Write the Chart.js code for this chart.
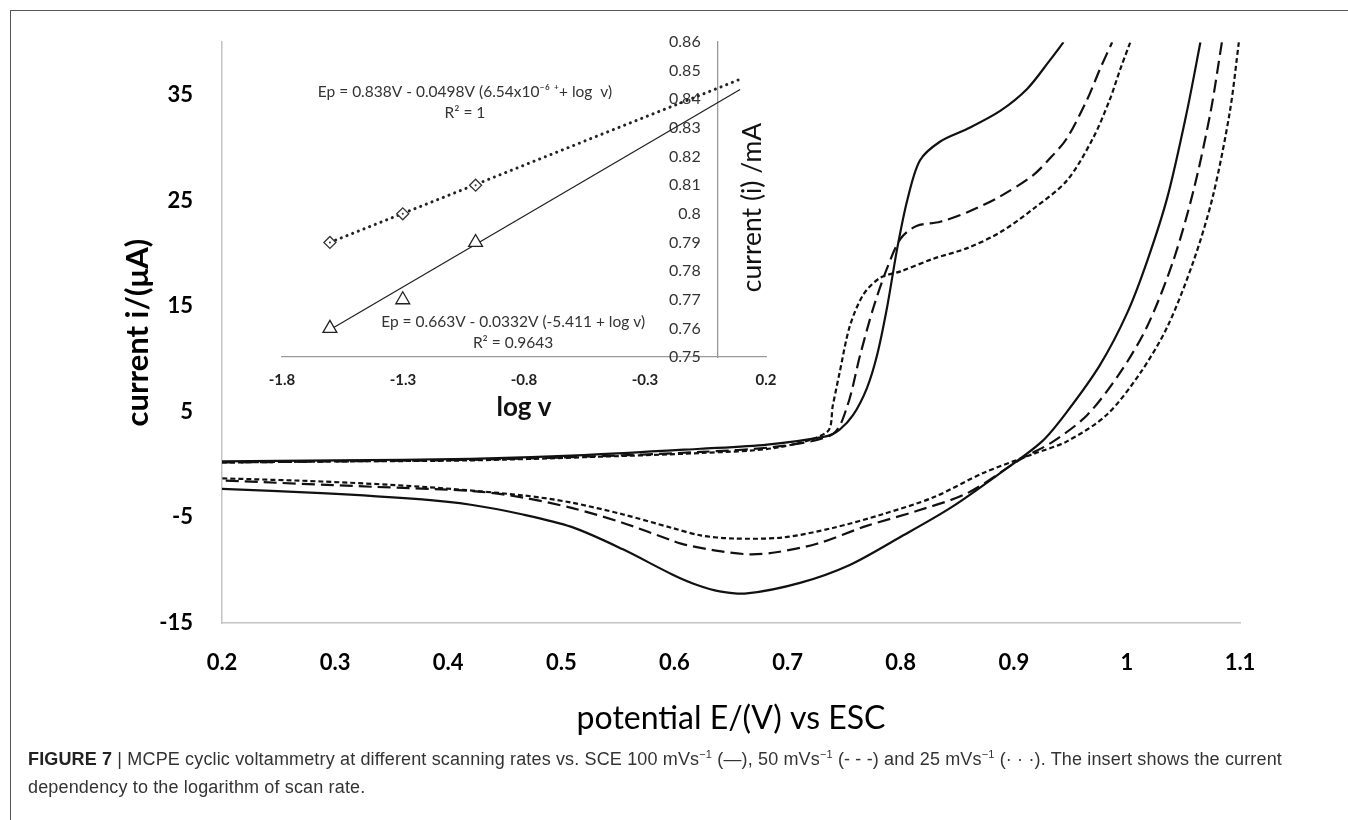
<!DOCTYPE html>
<html>
<head>
<meta charset="utf-8">
<script src="https://cdn.jsdelivr.net/npm/chart.js@4.4.1/dist/chart.umd.min.js"></script>
<style>
  html, body { margin:0; padding:0; background:#fff; }
  body { width:1348px; height:820px; position:relative; overflow:hidden; }
  #frame { position:absolute; left:10px; top:10px; width:1345px; height:820px;
           border-top:1.5px solid #555; border-left:1.5px solid #555; }
  #mainWrap { position:absolute; left:0; top:0; width:1348px; height:760px; }
  #insetWrap { position:absolute; left:232px; top:0; width:560px; height:430px; }
  #caption { position:absolute; left:28px; top:745px; width:1310px;
             font-family:"Liberation Sans", Arial, sans-serif; font-size:18px; letter-spacing:0.15px;
             line-height:28px; color:#333; white-space:nowrap; }
  #caption b { color:#222; }
  #caption sup { font-size:11px; line-height:0; }
</style>
</head>
<body>
<div id="frame"></div>
<div id="mainWrap"><canvas id="main" width="1348" height="760"></canvas></div>
<div id="insetWrap"><canvas id="inset" width="560" height="430"></canvas></div>
<div id="caption"><b>FIGURE 7</b> | MCPE cyclic voltammetry at different scanning rates vs. SCE 100 mVs<sup>−1</sup> (—), 50 mVs<sup>−1</sup> (- - -) and 25 mVs<sup>−1</sup> (· · ·). The insert shows the current<br>dependency to the logarithm of scan rate.</div>
<script>
// ---------- main voltammograms: [potential E (V), current i (µA)] ----------
const anodic100 = [[0.2,0.3],[0.3,0.4],[0.42,0.55],[0.52,0.9],[0.623,1.5],[0.682,1.9],[0.735,2.7],[0.746,3.3],[0.758,4.7],[0.77,7.2],[0.779,10.3],[0.788,14.9],[0.797,20.5],[0.806,25.1],[0.817,28.8],[0.835,30.6],[0.859,31.8],[0.888,33.5],[0.912,35.6],[0.932,38.3],[0.944,40]];
const cathodic100 = [[1.065,40],[1.053,33.4],[1.036,25.4],[1.018,19.3],[1.0,14.3],[0.976,9.4],[0.947,5.0],[0.925,2.2],[0.888,-0.8],[0.844,-4.1],[0.799,-6.9],[0.755,-9.5],[0.711,-11.2],[0.664,-12.2],[0.64,-12.0],[0.62,-11.4],[0.598,-10.4],[0.554,-8.0],[0.509,-5.9],[0.465,-4.7],[0.42,-3.8],[0.377,-3.3],[0.288,-2.7],[0.2,-2.3]];
const anodic50 = [[0.2,0.2],[0.3,0.3],[0.42,0.45],[0.52,0.75],[0.623,1.2],[0.69,1.7],[0.74,2.9],[0.753,5.6],[0.764,10.3],[0.776,14.9],[0.788,18.6],[0.8,21.4],[0.814,22.6],[0.835,23.0],[0.859,23.9],[0.888,25.4],[0.917,27.4],[0.932,29.0],[0.947,30.9],[0.965,34.6],[0.976,37.4],[0.987,40]];
const cathodic50 = [[1.084,40],[1.074,33.4],[1.059,26.0],[1.041,19.3],[1.018,13.1],[0.994,8.7],[0.965,4.7],[0.935,2.2],[0.906,0.5],[0.859,-2.7],[0.814,-4.4],[0.77,-5.8],[0.726,-7.5],[0.69,-8.3],[0.667,-8.5],[0.64,-8.2],[0.61,-7.6],[0.598,-7.2],[0.554,-5.5],[0.509,-4.1],[0.465,-3.1],[0.421,-2.5],[0.333,-2.1],[0.2,-1.5]];
const anodic25 = [[0.2,0.2],[0.3,0.3],[0.42,0.4],[0.52,0.7],[0.623,1.1],[0.69,1.6],[0.735,3.1],[0.74,5.6],[0.746,8.7],[0.755,13.1],[0.767,16.1],[0.782,17.7],[0.8,18.3],[0.829,19.5],[0.859,20.5],[0.888,22.0],[0.917,24.2],[0.947,26.9],[0.97,30.9],[0.985,34.6],[0.994,37.4],[1.003,40]];
const cathodic25 = [[1.099,40],[1.091,33.4],[1.076,25.4],[1.059,19.3],[1.036,13.1],[1.012,8.7],[0.982,4.7],[0.947,2.2],[0.917,1.0],[0.873,-0.8],[0.829,-3.1],[0.784,-4.7],[0.74,-6.0],[0.696,-6.9],[0.652,-7.0],[0.623,-6.7],[0.598,-6.0],[0.554,-4.7],[0.509,-3.6],[0.465,-2.9],[0.377,-2.1],[0.288,-1.6],[0.2,-1.3]];
const mainXTicks = [0.2,0.3,0.4,0.5,0.6,0.7,0.8,0.9,1.0,1.1];
const mainYTicks = [-15,-5,5,15,25,35];

// ---------- insert: peak potential vs log of scan rate ----------
const logScanRate = [-1.602,-1.301,-1.0];
const epDiamond = [0.79,0.80,0.81];
const epTriangle = [0.76,0.77,0.79];
const trendDiamond = [[-1.602,0.79],[0.093,0.847]];
const trendTriangle = [[-1.602,0.7595],[0.093,0.8434]];
const insetXTicks = [-1.8,-1.3,-0.8,-0.3,0.2];
const insetYTicks = [0.75,0.76,0.77,0.78,0.79,0.80,0.81,0.82,0.83,0.84,0.85,0.86];
const eqDiamond = ['Ep = 0.838V - 0.0498V (6.54x10⁻⁶ ⁺+ log  v)', 'R² = 1'];
const eqTriangle = ['Ep = 0.663V - 0.0332V (-5.411 + log v)', 'R² = 0.9643'];

const FONT = 'Lato, "Open Sans", "Liberation Sans", sans-serif';
const pts = a => a.map(p => ({x:p[0], y:p[1]}));
const fmt = v => String(+(+v).toFixed(2));

function cv(data, dash) {
  return { data: pts(data), showLine:true, pointRadius:0, borderColor:'#111', borderWidth:2.2,
           borderDash:dash, tension:0.3, fill:false };
}

new Chart(document.getElementById('main'), {
  type:'scatter',
  data:{ datasets:[
    cv(anodic100, []), cv(cathodic100, []),
    cv(anodic50, [13,6]), cv(cathodic50, [13,6]),
    cv(anodic25, [5,3]), cv(cathodic25, [5,3])
  ]},
  options:{
    responsive:false, animation:false, devicePixelRatio:1,
    layout:{ padding:{ left:100, right:108, top:29, bottom:0 } },
    plugins:{ legend:{display:false}, tooltip:{enabled:false} },
    scales:{
      x:{ type:'linear', min:0.2, max:1.1,
          afterBuildTicks: s => { s.ticks = mainXTicks.map(v => ({value:v})); },
          afterFit: s => { s.height = 137; },
          grid:{ display:false, drawTicks:false },
          border:{ display:true, color:'#c4c4c4', width:1.5 },
          ticks:{ callback: fmt, color:'#000', padding:27, maxRotation:0, autoSkip:false,
                  font:{ family:FONT, size:22, weight:'bold' } },
          title:{ display:true, text:'potential E/(V) vs ESC', color:'#000',
                  font:{ family:FONT, size:32 }, padding:{ top:0, bottom:22 } } },
      y:{ type:'linear', min:-15, max:40,
          afterBuildTicks: s => { s.ticks = mainYTicks.map(v => ({value:v})); },
          afterFit: s => { s.width = 122; },
          grid:{ display:false, drawTicks:false },
          border:{ display:true, color:'#c4c4c4', width:1.5 },
          ticks:{ color:'#000', padding:29, font:{ family:FONT, size:22, weight:'bold' } },
          title:{ display:true, text:'current i/(μA)', color:'#000',
                  font:{ family:FONT, size:31, weight:'bold' }, padding:{ top:19, bottom:0 } } }
    }
  }
});

const insetText = {
  id:'insetText',
  afterDraw(chart) {
    const {ctx, scales:{x, y}} = chart;
    ctx.save();
    ctx.fillStyle = '#333';
    ctx.textAlign = 'center';
    ctx.textBaseline = 'middle';
    ctx.font = '15.5px ' + FONT;
    ctx.fillText(eqDiamond[0], x.getPixelForValue(-1.044), y.getPixelForValue(0.8426));
    ctx.fillText(eqDiamond[1], x.getPixelForValue(-1.044), y.getPixelForValue(0.8352));
    ctx.fillText(eqTriangle[0], x.getPixelForValue(-0.845), y.getPixelForValue(0.7622));
    ctx.fillText(eqTriangle[1], x.getPixelForValue(-0.845), y.getPixelForValue(0.7549));
    // y-axis title of the insert (right of the axis line, reading upward)
    ctx.translate(x.getPixelForValue(0) + 35, (y.top + y.bottom) / 2 + 8);
    ctx.rotate(-Math.PI / 2);
    ctx.fillStyle = '#111';
    ctx.font = '26.5px ' + FONT;
    ctx.fillText('current (i) /mA', 0, 0);
    ctx.restore();
  }
};

new Chart(document.getElementById('inset'), {
  type:'scatter',
  data:{ datasets:[
    { data: logScanRate.map((v,i) => ({x:v, y:epDiamond[i]})), pointStyle:'rectRot', pointRadius:6,
      pointBackgroundColor:'#fff', pointBorderColor:'#333', pointBorderWidth:1.3, showLine:false, order:1 },
    { data: logScanRate.map((v,i) => ({x:v, y:epDiamond[i]})), pointStyle:'circle', pointRadius:1,
      pointBackgroundColor:'#333', pointBorderWidth:0, showLine:false, order:0 },
    { data: logScanRate.map((v,i) => ({x:v, y:epTriangle[i]})), pointStyle:'triangle', pointRadius:8,
      pointBackgroundColor:'#fff', pointBorderColor:'#222', pointBorderWidth:1.3, showLine:false, order:1 },
    { data: pts(trendDiamond), showLine:true, pointRadius:0, borderColor:'#222', borderWidth:3,
      borderDash:[0.1,6], borderCapStyle:'round', order:5 },
    { data: pts(trendTriangle), showLine:true, pointRadius:0, borderColor:'#222', borderWidth:1.3, order:5 }
  ]},
  options:{
    responsive:false, animation:false, devicePixelRatio:1,
    layout:{ padding:{ left:50, right:26, top:42, bottom:0 } },
    plugins:{ legend:{display:false}, tooltip:{enabled:false} },
    scales:{
      x:{ type:'linear', min:-1.8, max:0.2,
          afterBuildTicks: s => { s.ticks = insetXTicks.map(v => ({value:v})); },
          afterFit: s => { s.height = 73; },
          grid:{ display:false, drawTicks:false },
          border:{ display:true, color:'#9a9a9a', width:1.3 },
          ticks:{ callback: fmt, color:'#222', padding:14, maxRotation:0, autoSkip:false,
                  font:{ family:FONT, size:15, weight:'bold' } },
          title:{ display:true, text:'log v', color:'#111',
                  font:{ family:FONT, size:26, weight:'bold' }, padding:{ top:0, bottom:7 } } },
      // axis line crossing at log v = 0
      y:{ type:'linear', min:0.75, max:0.86, position:{ x:0 },
          afterBuildTicks: s => { s.ticks = insetYTicks.map(v => ({value:v})); },
          grid:{ display:false, drawTicks:false },
          border:{ display:true, color:'#9a9a9a', width:1.3 },
          ticks:{ display:false } },
      // tick labels of the same axis, set just left of the crossing line
      yLabels:{ type:'linear', min:0.75, max:0.86, position:{ x:-0.07 },
          afterBuildTicks: s => { s.ticks = insetYTicks.map(v => ({value:v})); },
          grid:{ display:false, drawTicks:false },
          border:{ display:false },
          ticks:{ callback: fmt, color:'#333', autoSkip:false,
                  font:{ family:FONT, size:16 } } }
    }
  },
  plugins:[insetText]
});
</script>
</body>
</html>
